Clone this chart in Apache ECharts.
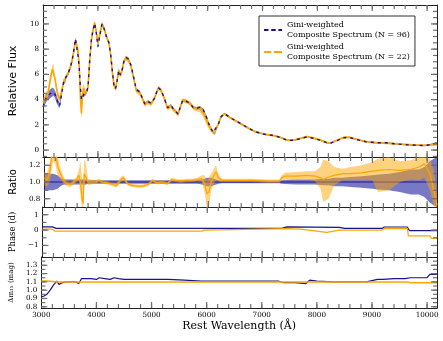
<!DOCTYPE html>
<html><head><meta charset="utf-8">
<script src="https://cdn.jsdelivr.net/npm/echarts@6/dist/echarts.min.js"></script>
<style>html,body{margin:0;padding:0;background:#fff}#c{width:443px;height:341px}</style>
</head><body><div id="c"></div>
<script>
// ---------------- DATA ----------------
const nameBlue = 'Gini-weighted\nComposite Spectrum (N = 96)';
const nameOrange = 'Gini-weighted\nComposite Spectrum (N = 22)';

const fluxWave = [
 3000,3040,3080,3110,3140,3170,3190,3220,3250,3270,
 3300,3330,3360,3380,3400,3420,3460,3500,3530,3560,
 3590,3610,3640,3660,3680,3700,3720,3740,3770,3800,
 3820,3850,3880,3910,3940,3970,4000,4040,4075,4115,
 4155,4200,4230,4260,4290,4320,4350,4380,4410,4440,
 4470,4510,4560,4605,4650,4700,4765,4820,4855,4910,
 4970,5030,5100,5150,5210,5270,5330,5375,5415,5460,
 5505,5545,5620,5680,5740,5800,5860,5920,5980,6040,
 6100,6130,6190,6245,6310,6400,6500,6620,6750,6870,
 7040,7220,7340,7460,7580,7700,7815,7930,8050,8170,
 8230,8350,8470,8580,8700,8880,9060,9240,9470,9710,
 9950,10050,10180];
const fluxBlue = [
 3.4,4.0,4.3,4.4,4.5,4.6,4.6,4.4,4.0,3.8,
 3.5,4.2,5.0,5.5,5.4,5.8,6.1,6.6,7.1,7.9,
 8.8,8.3,7.4,6.5,5.0,4.0,4.2,4.4,4.4,4.7,
 5.0,7.1,8.7,9.5,10.05,9.3,8.2,9.2,10.0,9.6,
 9.0,8.5,7.7,6.4,5.2,4.85,5.5,6.3,5.95,6.3,
 7.0,7.35,7.2,6.7,5.8,4.8,4.6,4.0,3.65,3.85,
 3.7,4.1,4.95,4.75,4.1,3.35,3.55,3.25,3.1,2.85,
 3.45,3.95,3.85,3.7,3.35,3.3,3.4,3.2,2.6,1.85,
 1.4,1.3,2.0,2.65,2.88,2.6,2.35,2.05,1.72,1.45,
 1.25,1.14,0.98,0.76,0.79,0.92,1.05,0.93,0.79,0.58,
 0.53,0.74,0.98,1.0,0.85,0.66,0.58,0.58,0.47,0.4,
 0.36,0.42,0.55];
const fluxOrange = [
 3.8,4.1,4.3,5.0,5.8,6.4,6.5,5.6,4.8,4.4,
 4.0,4.5,5.1,5.5,5.4,5.8,6.1,6.6,7.1,7.8,
 8.7,8.4,7.8,6.6,4.2,2.9,4.5,4.9,4.5,4.7,
 5.0,7.1,8.7,9.5,10.1,9.4,8.5,9.3,10.0,9.6,
 9.0,8.5,7.6,6.3,5.2,4.85,5.5,6.3,5.9,6.3,
 6.95,7.3,7.1,6.6,5.7,4.7,4.5,4.0,3.6,3.8,
 3.65,4.1,4.9,4.75,4.1,3.3,3.5,3.2,3.05,2.8,
 3.45,3.95,3.85,3.7,3.35,3.25,3.25,2.95,2.35,1.8,
 1.42,1.32,2.0,2.65,2.88,2.6,2.35,2.05,1.72,1.45,
 1.25,1.14,0.98,0.77,0.8,0.93,1.08,0.95,0.8,0.6,
 0.55,0.76,1.0,1.02,0.87,0.68,0.6,0.56,0.48,0.42,
 0.38,0.4,0.45];
const fluxBlueErr = [
 .35,.35,.35,.35,.35,.35,.3,.3,.3,.25,
 .2,.2,.15,.15,.15,.15,.15,.15,.15,.15,
 .15,.15,.15,.15,.15,.15,.15,.15,.12,.12,
 .12,.12,.12,.12,.12,.12,.12,.12,.12,.12,
 .12,.12,.12,.12,.12,.12,.12,.12,.12,.12,
 .12,.12,.12,.12,.12,.12,.1,.1,.1,.1,
 .1,.1,.1,.1,.1,.1,.1,.1,.1,.1,
 .1,.1,.1,.1,.1,.1,.1,.1,.1,.1,
 .08,.08,.08,.08,.08,.06,.06,.06,.05,.05,
 .05,.05,.05,.05,.05,.05,.05,.05,.05,.05,
 .05,.05,.05,.05,.05,.05,.05,.05,.05,.05,
 .05,.06,.08];
const fluxOrangeErr = [
 .3,.3,.3,.35,.35,.35,.35,.3,.3,.25,
 .2,.2,.2,.2,.2,.2,.2,.2,.2,.2,
 .2,.2,.25,.4,.7,.5,.5,.4,.25,.2,
 .2,.2,.2,.2,.2,.2,.2,.2,.2,.2,
 .2,.2,.2,.2,.2,.2,.2,.2,.2,.2,
 .2,.2,.2,.2,.2,.2,.18,.18,.18,.18,
 .18,.18,.18,.18,.18,.18,.18,.18,.18,.18,
 .18,.18,.18,.18,.18,.2,.25,.35,.35,.3,
 .15,.12,.12,.12,.1,.1,.1,.1,.08,.08,
 .08,.08,.08,.08,.08,.08,.08,.08,.08,.08,
 .08,.08,.08,.08,.08,.08,.08,.1,.08,.08,
 .08,.08,.08];

const ratioWave = [
 3000,3050,3100,3130,3160,3200,3240,3280,3320,3370,
 3420,3480,3540,3590,3630,3660,3690,3710,3730,3760,
 3800,3850,3950,4000,4050,4150,4250,4320,4400,4450,
 4520,4600,4700,4800,4900,4980,5050,5150,5250,5330,
 5400,5500,5600,5700,5800,5880,5930,5970,6010,6050,
 6100,6140,6180,6250,6500,6800,7100,7300,7340,7400,
 7600,7800,7950,8050,8100,8200,8300,8450,8600,8800,
 9000,9100,9300,9500,9700,9850,9950,10050,10120,10180];
const ratioBlue = [
 1,1,1,1,1,1,1,1,1,1, 1,1,1,1,1,1,1,1,1,1,
 1,1,1,1,1,1,1,1,1,1, 1,1,1,1,1,1,1,1,1,1,
 1,1,1,1,1,1,1,1,1,1, 1,1,1,1,1,1,1,1,1,1,
 1,1,1,1,1,1,1,1,1,1, 1,1,1,1,1,1,1,1,1,1];
const ratioBlueErr = [
 .10,.10,.10,.10,.10,.09,.08,.06,.04,.03,
 .03,.03,.03,.03,.03,.03,.03,.03,.03,.03,
 .02,.02,.02,.02,.02,.02,.02,.02,.02,.02,
 .02,.02,.02,.02,.02,.02,.02,.02,.02,.02,
 .02,.02,.02,.02,.02,.03,.04,.05,.05,.05,
 .04,.03,.02,.015,.015,.015,.015,.015,.02,.025,
 .03,.03,.03,.035,.04,.04,.05,.05,.06,.07,
 .08,.09,.10,.12,.15,.15,.18,.25,.28,.30];
const ratioOrange = [
 1.05,1.02,1.12,1.28,1.40,1.38,1.20,1.12,1.06,1.00,
 0.98,0.97,1.00,1.03,1.08,1.00,0.80,0.74,1.10,1.12,
 1.00,1.00,1.00,1.02,1.00,0.99,0.97,0.96,1.03,1.05,
 0.98,0.96,0.95,0.95,0.97,1.02,0.99,1.00,0.98,1.03,
 1.02,1.01,1.02,1.02,1.03,1.04,0.98,0.86,0.88,1.00,
 1.08,1.12,1.05,1.02,1.02,1.02,1.01,1.01,1.05,1.07,
 1.07,1.08,1.07,1.05,1.03,1.06,1.08,1.10,1.10,1.11,
 1.13,1.14,1.15,1.14,1.15,1.18,1.22,1.10,0.90,0.72];
const ratioOrangeLo = [
 0.96,0.94,1.00,1.12,1.25,1.22,1.08,1.05,1.01,0.96,
 0.95,0.94,0.97,1.00,1.02,0.85,0.68,0.68,0.95,1.02,
 0.96,0.97,0.98,1.00,0.98,0.97,0.95,0.93,1.00,1.02,
 0.96,0.94,0.93,0.93,0.95,1.00,0.97,0.98,0.96,1.01,
 1.00,0.99,1.00,1.00,1.01,1.00,0.88,0.68,0.70,0.90,
 0.98,1.02,1.01,1.00,1.00,1.00,0.99,0.99,1.02,1.03,
 1.02,1.03,1.01,0.92,0.76,0.80,0.96,1.02,1.02,1.02,
 1.02,0.88,0.90,1.00,1.03,1.02,1.05,0.90,0.72,0.62];
const ratioOrangeHi = [
 1.12,1.10,1.25,1.40,1.50,1.50,1.32,1.20,1.12,1.04,
 1.01,1.00,1.03,1.06,1.15,1.25,1.05,1.00,1.28,1.22,
 1.04,1.03,1.02,1.04,1.02,1.01,0.99,0.99,1.06,1.08,
 1.00,0.98,0.97,0.97,0.99,1.04,1.01,1.02,1.00,1.05,
 1.04,1.03,1.04,1.04,1.05,1.08,1.08,1.00,1.06,1.10,
 1.16,1.20,1.10,1.04,1.04,1.04,1.03,1.03,1.08,1.11,
 1.12,1.13,1.13,1.18,1.27,1.25,1.18,1.16,1.18,1.20,
 1.24,1.28,1.30,1.25,1.26,1.30,1.30,1.28,1.15,0.85];

const phaseBlueWave = [3000,3180,3250,5000,7350,7450,8400,8500,9180,9220,9640,9680,10180];
const phaseBlue     = [0.21,0.21,0.11,0.11,0.11,0.21,0.18,0.11,0.11,0.20,0.20,-0.04,-0.04];
const phaseOrangeWave = [3000,3180,3230,5900,5950,7450,7700,8170,8400,9180,9230,9640,9660,10050,10080,10180];
const phaseOrange     = [0.06,0.06,-0.07,-0.07,0.0,0.10,0.06,-0.15,0.0,0.0,0.10,0.10,-0.38,-0.38,-0.54,-0.54];

const dmBlueWave = [3000,3050,3100,3160,3220,3280,3320,3380,3450,3550,3620,3680,3710,3730,3800,3900,4000,4050,4150,4250,4320,4400,4500,4650,4800,5000,5300,5600,5900,6300,6800,7300,7400,7600,7800,7870,8000,8300,8600,8900,9100,9200,9400,9600,9700,9900,10000,10050,10180];
const dmBlue     = [0.92,0.93,0.95,1.0,1.06,1.11,1.07,1.09,1.1,1.1,1.1,1.08,1.08,1.14,1.14,1.14,1.13,1.15,1.14,1.13,1.15,1.14,1.13,1.13,1.13,1.13,1.13,1.12,1.11,1.11,1.11,1.11,1.09,1.09,1.08,1.12,1.11,1.1,1.1,1.1,1.13,1.13,1.14,1.14,1.15,1.15,1.15,1.19,1.19];
const dmOrangeWave = [3000,3100,3300,5000,7000,9000,9650,9700,10180];
const dmOrange     = [1.11,1.11,1.10,1.10,1.10,1.10,1.10,1.09,1.09];

// tick spacing (major, minor) per axis
const xTickStep = [1000, 200];
const yTickSteps = [[2, 0.5], [0.2, 0.1], [1, 0.5], [0.1, 0.05]];

// ---------------- STYLE / LAYOUT ----------------
const NAVY = '#16168a', ORANGE = '#ffa500';
const BLUE_BAND = 'rgba(30,30,160,0.6)', ORANGE_BAND = 'rgba(255,165,0,0.5)';
const X_MIN = 3000, X_MAX = 10180;
const grids = [
  {left:33, right:6, top:5, height:152},
  {left:33, right:6, top:157, height:50},
  {left:33, right:6, top:207, height:50},
  {left:33, right:6, top:257, height:51}
];
const yRanges = [[-0.55,11.5],[0.7,1.3],[-1.75,1.5],[0.785,1.4]];
const yNames = ['Relative Flux','Ratio','Phase (d)','Δm₁₅ (mag)'];
const yNameStyle = [
  {fontFamily:'DejaVu Sans', fontSize:11, color:'#000'},
  {fontFamily:'DejaVu Sans', fontSize:10, color:'#000'},
  {fontFamily:'DejaVu Serif', fontSize:8.5, color:'#000'},
  {fontFamily:'DejaVu Serif', fontSize:7, color:'#000'}
];
const yNameGap = [16, 16, 17, 18];
const yFmt = [v=>String(v), v=>v.toFixed(1), v=>(v<0?'\u2212'+Math.abs(v):String(v)), v=>v.toFixed(1)];

const tickColor = '#707070';
const spineColor = '#222';
const labelFont = {fontFamily:'DejaVu Serif', fontSize:7.2, color:'#000'};
const MAJOR_LEN = 6, MINOR_LEN = 4;

function tickValues(lo, hi, step) {
  const out = [];
  const n0 = Math.ceil(lo/step - 1e-9), n1 = Math.floor(hi/step + 1e-9);
  for (let n = n0; n <= n1; n++) {
    const v = +(n*step).toFixed(6);
    if (v > lo + 1e-9 && v < hi - 1e-9) out.push(v);
  }
  return out;
}

const xAxes = [], yAxes = [];
grids.forEach((g, gi) => {
  xAxes.push({
    type:'value', gridIndex:gi, position:'bottom', min:X_MIN, max:X_MAX,
    minInterval:xTickStep[0], maxInterval:xTickStep[0], splitNumber:7,
    axisLine:{show:true, onZero:false, lineStyle:{color:spineColor, width:1}},
    splitLine:{show:false}, minorTick:{show:false}, axisTick:{show:false},
    axisLabel:Object.assign({show:gi===3, margin:4, showMinLabel:true, showMaxLabel:false,
      formatter:v=>(v % 1000 === 0 ? String(v) : '')}, labelFont),
    name: gi===3 ? 'Rest Wavelength (Å)' : '',
    nameLocation:'middle', nameGap:13,
    nameTextStyle:{fontFamily:'DejaVu Serif', fontSize:11, color:'#000'}
  });
  xAxes.push({
    type:'value', gridIndex:gi, position:'top', min:X_MIN, max:X_MAX,
    axisLine:{show:true, onZero:false, lineStyle:{color:spineColor, width:1}},
    splitLine:{show:false}, axisTick:{show:false}, axisLabel:{show:false}
  });
  const [lo, hi] = yRanges[gi];
  const [maj] = yTickSteps[gi];
  yAxes.push({
    type:'value', gridIndex:gi, position:'left', min:lo, max:hi,
    minInterval:maj, maxInterval:maj, splitNumber:Math.round((hi-lo)/maj),
    axisLine:{show:true, onZero:false, lineStyle:{color:spineColor, width:1}},
    splitLine:{show:false}, minorTick:{show:false}, axisTick:{show:false},
    axisLabel:Object.assign({show:true, margin:4, showMinLabel:false, showMaxLabel:false,
      formatter:yFmt[gi]}, labelFont),
    name: yNames[gi], nameLocation:'middle', nameGap:yNameGap[gi], nameRotate:90,
    nameTextStyle: yNameStyle[gi]
  });
  yAxes.push({
    type:'value', gridIndex:gi, position:'right', min:lo, max:hi,
    axisLine:{show:true, onZero:false, lineStyle:{color:spineColor, width:1}},
    splitLine:{show:false}, axisTick:{show:false}, axisLabel:{show:false}
  });
});

const zip = (w, v) => w.map((x, i) => [x, v[i]]);
function band(name, gi, wave, lo, hi, color, z) {
  return {
    type:'custom', name, xAxisIndex:gi*2, yAxisIndex:gi*2, clip:true, silent:true, z,
    data: wave.map((w, i) => [w, lo[i], hi[i]]),
    encode:{x:0, y:[1,2]},
    renderItem: function (params, api) {
      if (params.dataIndex !== 0) return;
      const pts = [];
      for (let i = 0; i < wave.length; i++) pts.push(api.coord([wave[i], hi[i]]));
      for (let i = wave.length - 1; i >= 0; i--) pts.push(api.coord([wave[i], lo[i]]));
      return {type:'polygon', shape:{points:pts}, style:{fill:color}};
    }
  };
}
function line(name, gi, data, color, width, z, dash) {
  return {
    type:'line', name, xAxisIndex:gi*2, yAxisIndex:gi*2, data, z,
    symbol:'none', showSymbol:false, silent:true, animation:false, clip:true,
    lineStyle:{color, width, type: dash || 'solid'}, itemStyle:{color}
  };
}
// inward tick marks on all four sides of a panel, each one a small bar placed through the axes' scales
function ticks(gi) {
  const lo = yRanges[gi][0], hi = yRanges[gi][1];
  const yMaj = yTickSteps[gi][0], yMin = yTickSteps[gi][1];
  const xMajV = tickValues(X_MIN, X_MAX, xTickStep[0]);
  const xMinV = tickValues(X_MIN, X_MAX, xTickStep[1]);
  const yMajV = tickValues(lo, hi, yMaj);
  const yMinV = tickValues(lo, hi, yMin);
  return {
    type:'custom', name:'ticks'+gi, xAxisIndex:gi*2, yAxisIndex:gi*2, clip:false, silent:true, z:20,
    data:[[ (X_MIN+X_MAX)/2, (lo+hi)/2 ]], encode:{x:0, y:1},
    renderItem: function (params, api) {
      const p0 = api.coord([X_MIN, lo]);
      const p1 = api.coord([X_MAX, hi]);
      const xl = p0[0], yb = p0[1], xr = p1[0], yt = p1[1];
      const kids = [];
      const W = 1.2;
      function rect(x, y, w, h) {
        kids.push({type:'rect', shape:{x:x, y:y, width:w, height:h}, style:{fill:tickColor}});
      }
      function xt(vals, len) {
        for (let i = 0; i < vals.length; i++) {
          const x = api.coord([vals[i], lo])[0] - W/2;
          rect(x, yb - len, W, len);
          rect(x, yt, W, len);
        }
      }
      function ytk(vals, len) {
        for (let i = 0; i < vals.length; i++) {
          const y = api.coord([X_MIN, vals[i]])[1] - W/2;
          rect(xl, y, len, W);
          rect(xr - len, y, len, W);
        }
      }
      xt(xMajV, MAJOR_LEN); xt(xMinV, MINOR_LEN);
      ytk(yMajV, MAJOR_LEN); ytk(yMinV, MINOR_LEN);
      return {type:'group', children:kids};
    }
  };
}

const fluxBlueLo = fluxBlue.map((v,i)=>v-fluxBlueErr[i]);
const fluxBlueHi = fluxBlue.map((v,i)=>v+fluxBlueErr[i]);
const fluxOrLo = fluxOrange.map((v,i)=>v-fluxOrangeErr[i]);
const fluxOrHi = fluxOrange.map((v,i)=>v+fluxOrangeErr[i]);
const ratioBlueLo = ratioBlue.map((v,i)=>v-ratioBlueErr[i]);
const ratioBlueHi = ratioBlue.map((v,i)=>v+ratioBlueErr[i]);

const series = [
  ticks(0), ticks(1), ticks(2), ticks(3),
  band('fb', 0, fluxWave, fluxBlueLo, fluxBlueHi, BLUE_BAND, 1),
  band('fo', 0, fluxWave, fluxOrLo, fluxOrHi, ORANGE_BAND, 2),
  line(nameOrange, 0, zip(fluxWave, fluxOrange), ORANGE, 1.6, 3),
  line(nameBlue, 0, zip(fluxWave, fluxBlue), NAVY, 1.4, 4, [3,4]),
  band('rb', 1, ratioWave, ratioBlueLo, ratioBlueHi, BLUE_BAND, 1),
  line('rbl', 1, zip(ratioWave, ratioBlue), NAVY, 1, 2),
  band('ro', 1, ratioWave, ratioOrangeLo, ratioOrangeHi, ORANGE_BAND, 3),
  line('rol', 1, zip(ratioWave, ratioOrange), ORANGE, 1.2, 4),
  line('pb', 2, zip(phaseBlueWave, phaseBlue), NAVY, 1.2, 3),
  line('po', 2, zip(phaseOrangeWave, phaseOrange), ORANGE, 1.2, 4),
  line('db', 3, zip(dmBlueWave, dmBlue), NAVY, 1.2, 3),
  line('do', 3, zip(dmOrangeWave, dmOrange), ORANGE, 1.5, 4)
];

const chart = echarts.init(document.getElementById('c'), null, {renderer:'canvas'});
chart.setOption({
  animation:false,
  backgroundColor:'#fff',
  grid: grids.map(g => Object.assign({show:false}, g)),
  xAxis: xAxes,
  yAxis: yAxes,
  legend: {
    data:[
      {name:nameBlue, icon:'path://M0,0h5v2h-5z M8,0h5v2h-5z M16,0h4v2h-4z', itemStyle:{color:NAVY}},
      {name:nameOrange, icon:'path://M0,0h8v2h-8z M11,0h9v2h-9z', itemStyle:{color:ORANGE}}
    ],
    orient:'vertical', left:259, top:16,
    padding:[4,5,4,5], itemGap:2, itemWidth:18, itemHeight:2,
    backgroundColor:'#fff', borderColor:'#333', borderWidth:1, borderRadius:0,
    textStyle:{fontFamily:'DejaVu Serif', fontSize:8, lineHeight:10, color:'#000'},
    selectedMode:false
  },
  series
});
</script></body></html>
